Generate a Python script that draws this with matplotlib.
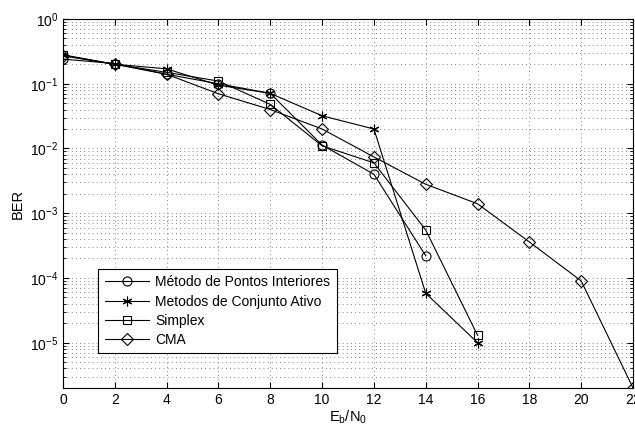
import matplotlib

matplotlib.use("Agg")

import matplotlib.pyplot as plt
from matplotlib.ticker import LogLocator, NullFormatter, MultipleLocator

plt.rcParams["font.family"] = ["Liberation Sans", "DejaVu Sans"]
plt.rcParams["mathtext.fontset"] = "custom"
plt.rcParams["mathtext.rm"] = "Liberation Sans"
plt.rcParams["mathtext.it"] = "Liberation Sans"

# Eb/N0 points (dB)
snr_short = [0, 2, 4, 6, 8, 10, 12, 14]
snr_mid = [0, 2, 4, 6, 8, 10, 12, 14, 16]
snr_long = [0, 2, 4, 6, 8, 10, 12, 14, 16, 18, 20, 22]

ber_pontos = [0.24, 0.205, 0.14, 0.10, 0.071, 0.0113, 0.0040, 2.2e-4]
ber_ativo = [0.275, 0.20, 0.17, 0.095, 0.071, 0.032, 0.020, 5.8e-5, 1.0e-5]
ber_simplex = [0.28, 0.20, 0.15, 0.11, 0.048, 0.011, 0.006, 5.5e-4, 1.3e-5]
ber_cma = [0.27, 0.20, 0.14, 0.07, 0.040, 0.020, 0.0074, 0.0028, 0.0014,
           3.6e-4, 9.0e-5, 2.0e-6]

labels = ["Método de Pontos Interiores", "Metodos de Conjunto Ativo",
          "Simplex", "CMA"]

fig = plt.figure(figsize=(6.35, 4.30), dpi=100)
ax = fig.add_axes([0.0992, 0.0977, 0.8977, 0.8581])

style = dict(color="black", lw=0.8, mfc="none", mec="black", mew=0.8)
ax.semilogy(snr_short, ber_pontos, marker="o", ms=6.5, label=labels[0], **style)
ax.semilogy(snr_mid, ber_ativo, marker=(6, 2, 0), ms=7, label=labels[1], **style)
ax.semilogy(snr_mid, ber_simplex, marker="s", ms=6, label=labels[2], **style)
ax.semilogy(snr_long, ber_cma, marker="D", ms=6, label=labels[3], **style)

ax.set_xlim(0, 22)
ax.set_ylim(2e-6, 1)
ax.xaxis.set_major_locator(MultipleLocator(2))
ax.yaxis.set_major_locator(LogLocator(base=10, numticks=10))
ax.yaxis.set_minor_locator(LogLocator(base=10, subs=range(2, 10), numticks=10))
ax.yaxis.set_minor_formatter(NullFormatter())

grid_style = dict(linestyle=(0, (1, 4)), color="0.35", lw=0.6)
ax.grid(True, which="major", axis="both", **grid_style)
ax.grid(True, which="minor", axis="y", **grid_style)
ax.tick_params(which="both", direction="in", top=True, right=True, labelsize=10)
ax.tick_params(which="major", length=4)
ax.tick_params(which="minor", length=2)
for sp in ax.spines.values():
    sp.set_linewidth(0.8)

ax.set_xlabel("E$_{b}$/N$_{0}$", fontsize=10.5, labelpad=1)
ax.set_ylabel("BER", fontsize=10.5, labelpad=4)

leg = ax.legend(loc="lower left", bbox_to_anchor=(0.05, 0.075), fontsize=10,
                frameon=True, fancybox=False, edgecolor="black", framealpha=1,
                handlelength=3.2, borderpad=0.45, labelspacing=0.38,
                handletextpad=0.45)
leg.get_frame().set_linewidth(0.8)

fig.savefig("out.png", dpi=100)
